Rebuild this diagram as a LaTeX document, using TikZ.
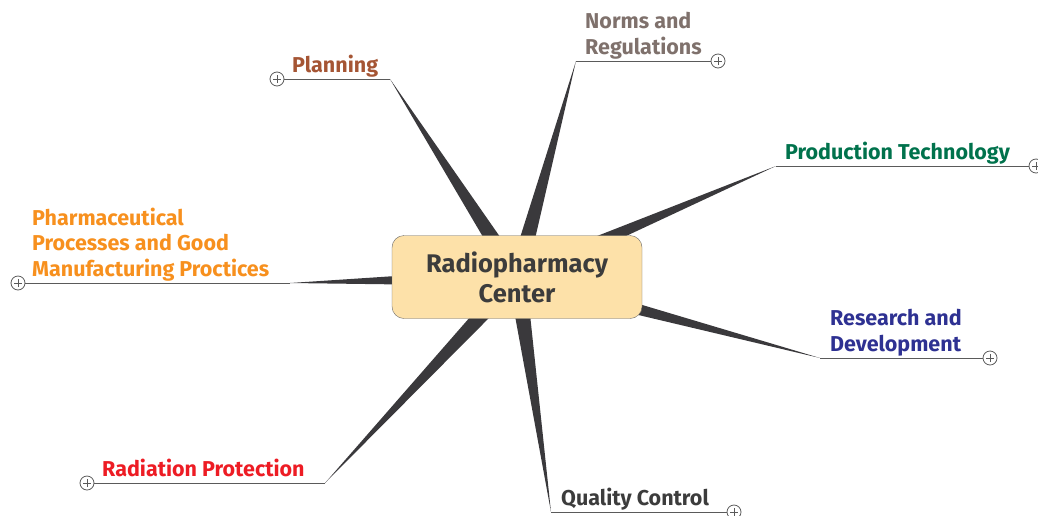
\documentclass[tikz,border=0pt]{standalone}
\usepackage{fontspec}
\setmainfont{Fira Sans}
\usetikzlibrary{positioning,calc}
\definecolor{wedgegray}{RGB}{58,57,60}
\definecolor{stemgray}{RGB}{90,90,90}
\definecolor{hubfill}{RGB}{253,225,169}
\definecolor{plancol}{RGB}{165,85,52}
\definecolor{normcol}{RGB}{127,113,108}
\definecolor{prodcol}{RGB}{0,114,76}
\definecolor{rescol}{RGB}{46,49,146}
\definecolor{qualcol}{RGB}{60,60,60}
\definecolor{radcol}{RGB}{237,28,36}
\definecolor{pharcol}{RGB}{247,144,30}

\begin{document}
\begin{tikzpicture}[
  x=1pt, y=-1pt,
  font=\bfseries\fontsize{21.5}{25.5}\selectfont,
  hub/.style={draw=gray!80!black, fill=hubfill, rounded corners=12pt, minimum width=250pt,
    minimum height=83pt, align=center, text=qualcol, font=\bfseries\fontsize{25.5}{30}\selectfont},
  topic/.style={anchor=south west, align=left, inner sep=0pt, text depth=2.5pt},
  branch/.style={fill=wedgegray},
  stem/.style={draw=stemgray, line width=1pt},
  fold/.style={circle, draw=stemgray, fill=white, line width=0.8pt, minimum size=14pt, inner sep=0pt,
    path picture={\draw[line width=0.8pt]
      ([xshift=-4pt]path picture bounding box.center) -- ([xshift=4pt]path picture bounding box.center)
      ([yshift=-4pt]path picture bounding box.center) -- ([yshift=4pt]path picture bounding box.center);}}
]
\useasboundingbox (0,0) rectangle (1038,515);
% ---- branch ends (where the wedges meet the underlines) ----
\coordinate (c) at (517,277);
\coordinate (plan) at (390,79);
\coordinate (norm) at (576,61);
\coordinate (prod) at (776,166);
\coordinate (res) at (820,358);
\coordinate (qual) at (551,512);
\coordinate (rad) at (325,483);
\coordinate (phar) at (290,283);
% ---- tapered branches ----
\fill[branch] ($(c)!9pt!90:(plan)$) -- (plan) -- ($(c)!9pt!-90:(plan)$) -- cycle;
\fill[branch] ($(c)!9pt!90:(norm)$) -- (norm) -- ($(c)!9pt!-90:(norm)$) -- cycle;
\fill[branch] ($(c)!9pt!90:(prod)$) -- (prod) -- ($(c)!9pt!-90:(prod)$) -- cycle;
\fill[branch] ($(c)!9pt!90:(res)$) -- (res) -- ($(c)!9pt!-90:(res)$) -- cycle;
\fill[branch] ($(c)!9pt!90:(qual)$) -- (qual) -- ($(c)!9pt!-90:(qual)$) -- cycle;
\fill[branch] ($(c)!9pt!90:(rad)$) -- (rad) -- ($(c)!9pt!-90:(rad)$) -- cycle;
\fill[branch] ($(c)!9pt!90:(phar)$) -- (phar) -- ($(c)!9pt!-90:(phar)$) -- cycle;
% ---- central topic ----
\node[hub] (rpc) at (c) {Radiopharmacy\\Center};
% ---- fold markers ----
\node[fold] (plan-f) at (277,79) {};
\node[fold] (norm-f) at (718,61) {};
\node[fold] (prod-f) at (1036,166) {};
\node[fold] (res-f) at (990,358) {};
\node[fold] (qual-f) at (734,512) {};
\node[fold] (rad-f) at (87,483) {};
\node[fold] (phar-f) at (18,283) {};
% ---- underlines ----
\draw[stem] (plan) -- (plan-f);
\draw[stem] (norm) -- (norm-f);
\draw[stem] (prod) -- (prod-f);
\draw[stem] (res) -- (res-f);
\draw[stem] (qual) -- (qual-f);
\draw[stem] (rad) -- (rad-f);
\draw[stem] (phar) -- (phar-f);
% ---- labels ----
\node[topic, text=plancol] (plan-t) at (292,75) {Planning};
\node[topic, text=normcol] (norm-t) at (585,57) {Norms and\\Regulations};
\node[topic, text=prodcol] (prod-t) at (785,162) {Production Technology};
\node[topic, text=rescol] (res-t) at (830,354) {Research and\\Development};
\node[topic, text=qualcol] (qual-t) at (561,508) {Quality Control};
\node[topic, text=radcol] (rad-t) at (102,479) {Radiation Protection};
\node[topic, text=pharcol] (phar-t) at (32,279) {Pharmaceutical\\Processes and Good\\Manufacturing Proctices};
\end{tikzpicture}
\end{document}
